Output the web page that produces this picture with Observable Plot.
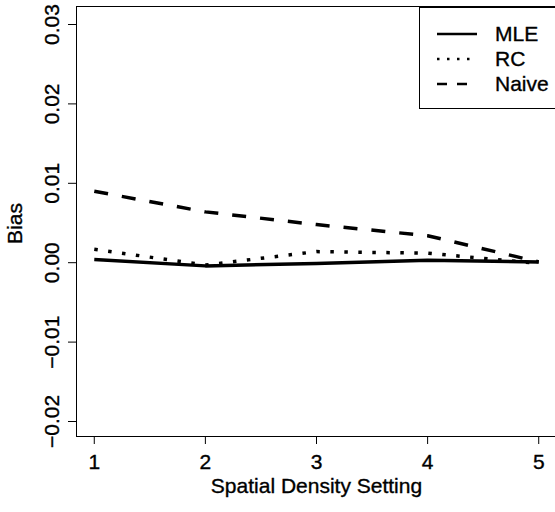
<!DOCTYPE html>
<html>
<head>
<meta charset="utf-8">
<script src="https://cdn.jsdelivr.net/npm/d3@7"></script>
<script src="https://cdn.jsdelivr.net/npm/@observablehq/plot@0.6"></script>
<style>
  html, body { margin: 0; padding: 0; background: white; overflow: hidden; }
  #chart { width: 555px; height: 512px; position: relative; }
  #chart svg text { stroke: black; stroke-width: 0.35px; }
</style>
</head>
<body>
<div id="chart"></div>
<script>
// ---- data ----
const settings = [1, 2, 3, 4, 5];
const mle   = [0.0004, -0.0004, -0.0001, 0.0003, 0.0001];
const rc    = [0.0017, -0.0003, 0.0014, 0.0012, -0.0001];
const naive = [0.0090, 0.0064, 0.0048, 0.0034, 0.0001];
const seriesNames = ["MLE", "RC", "Naive"];
const yTicks = [-0.02, -0.01, 0.00, 0.01, 0.02, 0.03];
const xLabel = "Spatial Density Setting";
const yLabel = "Bias";

// ---- styles ----
const font = "'Liberation Sans', Arial, Helvetica, sans-serif";
const fs = 21;
const lineStyles = {
  MLE:   {plot: null,        legend: null},
  RC:    {plot: "3.5,10.5",  legend: "2.5,7.5"},
  Naive: {plot: "14,14",     legend: "10,10"}
};

const seriesValues = {MLE: mle, RC: rc, Naive: naive};
const table = seriesNames.flatMap(k =>
  settings.map((s, i) => ({setting: s, bias: seriesValues[k][i], series: k}))
);

const W = 555, H = 512;
const mTop = 6, mBottom = 76, mLeft = 76, mRight = -1;

const lineMarks = seriesNames.map(k =>
  Plot.line(table.filter(d => d.series === k), {
    x: "setting", y: "bias",
    stroke: "black", strokeWidth: 3.5,
    strokeDasharray: lineStyles[k].plot ?? undefined,
    strokeLinecap: "butt", strokeLinejoin: "round"
  })
);

const svg = Plot.plot({
  width: W, height: H,
  marginTop: mTop, marginBottom: mBottom, marginLeft: mLeft, marginRight: mRight,
  style: {fontFamily: font, fontSize: fs + "px", background: "white", color: "black"},
  x: {domain: [0.84, 5.16]},
  y: {domain: [-0.021889, 0.032267]},
  marks: [
    ...lineMarks,
    Plot.frame({stroke: "black", strokeWidth: 1}),
    Plot.axisX({ticks: settings, tickSize: 8, tickPadding: 10, fontSize: fs,
      tickFormat: d => String(d), label: null, stroke: "black"}),
    Plot.axisY({ticks: yTicks, tickSize: 8, tickPadding: 10, tickRotate: -90, fontSize: fs,
      tickFormat: d3.format(".2f"), label: null, stroke: "black"}),
    Plot.text([xLabel], {frameAnchor: "bottom", text: d => d, lineAnchor: "top",
      dy: 42, fontSize: fs, fill: "black"}),
    Plot.text([yLabel], {frameAnchor: "left", text: d => d, rotate: -90, lineAnchor: "top",
      textAnchor: "middle", dx: -69, dy: 2, fontSize: fs, fill: "black"})
  ]
});

document.getElementById("chart").appendChild(svg);

// ---- legend (inside plot, top-right) ----
const lg = d3.select(svg).append("g").attr("class", "legend");
lg.append("rect")
  .attr("x", 419.5).attr("y", mTop + 1.5)
  .attr("width", 145).attr("height", 101)
  .attr("fill", "white").attr("stroke", "black").attr("stroke-width", 1);
const rowY = [34, 59, 84];
seriesNames.forEach((k, i) => {
  lg.append("line")
    .attr("x1", 437).attr("x2", 477)
    .attr("y1", rowY[i]).attr("y2", rowY[i])
    .attr("stroke", "black").attr("stroke-width", 2.5)
    .attr("stroke-linecap", "butt")
    .attr("stroke-dasharray", lineStyles[k].legend);
  lg.append("text")
    .attr("x", 495).attr("y", rowY[i]).attr("dy", "0.35em")
    .attr("text-anchor", "start")
    .attr("font-family", font).attr("font-size", fs).attr("fill", "black")
    .text(k);
});
</script>
</body>
</html>
